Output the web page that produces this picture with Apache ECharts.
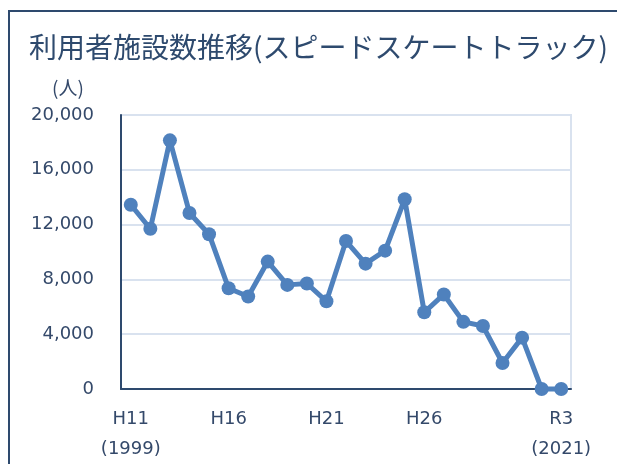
<!DOCTYPE html>
<html>
<head>
<meta charset="utf-8">
<script src="https://cdn.jsdelivr.net/npm/echarts@6/dist/echarts.min.js"></script>
<style>
  html, body { margin: 0; padding: 0; background: #fff; }
  #chart { width: 617px; height: 464px; }
</style>
</head>
<body>
<div id="chart"></div>
<script>
// ===== データ =====
const eras = ['H11', 'H12', 'H13', 'H14', 'H15', 'H16', 'H17', 'H18', 'H19', 'H20',
              'H21', 'H22', 'H23', 'H24', 'H25', 'H26', 'H27', 'H28', 'H29', 'H30',
              'R1', 'R2', 'R3'];
const users = [13450, 11700, 18150, 12850, 11300, 7350, 6750, 9300, 7600, 7700,
               6400, 10800, 9150, 10100, 13850, 5600, 6900, 4900, 4600, 1900,
               3750, 0, 0];
const shownLabels = [0, 5, 10, 15, 22];
const yearNotes = { 0: '(1999)', 22: '(2021)' };

const NAVY = '#2E4A6E';
const TEXT = '#34496A';
const LINE = '#4F81BD';
const GRIDLINE = '#D9E2EF';

const chart = echarts.init(document.getElementById('chart'));
chart.setOption({
    animation: false,
    title: {
        text: '利用者施設数推移(スピードスケートトラック)',
        left: 24, top: 28,
        textStyle: { fontFamily: 'Noto Sans CJK JP', fontSize: 28, fontWeight: 'normal', color: NAVY }
    },
    graphic: [
        {
            type: 'rect', silent: true,
            shape: { x: 9, y: 11, width: 800, height: 600 },
            style: { fill: 'none', stroke: NAVY, lineWidth: 2 }
        },
        {
            type: 'text', left: 52, top: 78,
            style: { text: '(人)', fontFamily: 'Noto Sans CJK JP', fontSize: 19, fill: TEXT }
        }
    ],
    grid: {
        left: 121, right: 46, top: 115, bottom: 71,
        show: true, borderColor: GRIDLINE, borderWidth: 2
    },
    xAxis: {
        type: 'category',
        data: eras,
        boundaryGap: true,
        axisLine: { lineStyle: { color: NAVY, width: 2 } },
        axisTick: { show: false },
        axisLabel: {
            interval: (i) => shownLabels.includes(i),
            formatter: (v, i) => yearNotes[i] ? v + '\n' + yearNotes[i] : v,
            fontFamily: 'DejaVu Sans', fontSize: 18, color: TEXT,
            lineHeight: 30, margin: 15
        }
    },
    yAxis: {
        type: 'value',
        min: 0, max: 20000, interval: 4000,
        axisLine: { show: true, lineStyle: { color: NAVY, width: 2 } },
        axisTick: { show: false },
        splitLine: { lineStyle: { color: GRIDLINE, width: 2 } },
        axisLabel: {
            formatter: (v) => v.toLocaleString('en-US'),
            fontFamily: 'DejaVu Sans', fontSize: 18, color: TEXT, margin: 27
        }
    },
    series: [{
        type: 'line',
        data: users,
        symbol: 'circle',
        symbolSize: 14,
        showSymbol: true,
        showAllSymbol: true,
        lineStyle: { color: LINE, width: 5 },
        itemStyle: { color: LINE },
        clip: false
    }]
});
</script>
</body>
</html>
